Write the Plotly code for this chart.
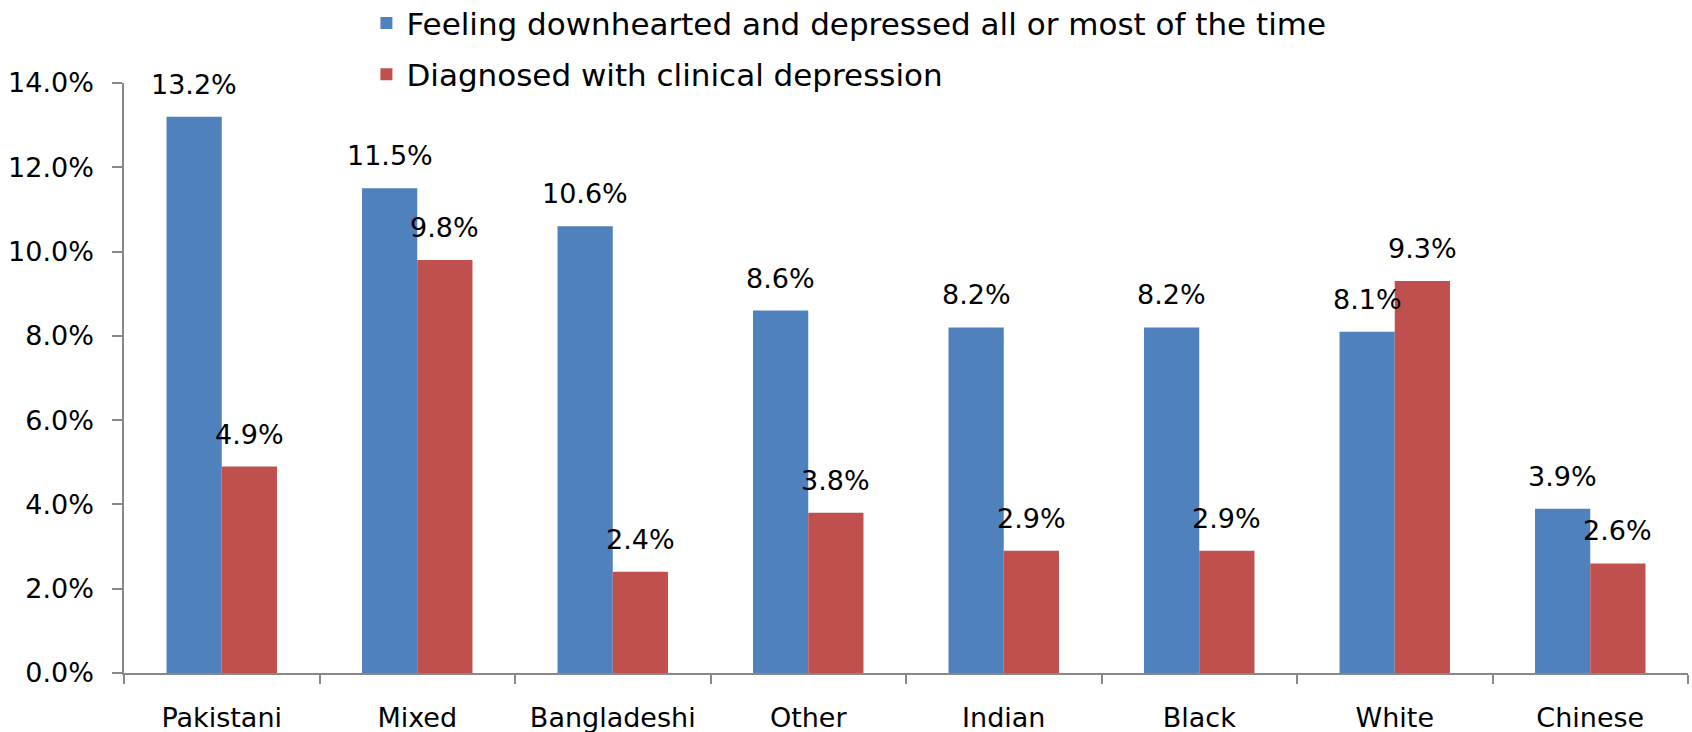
import plotly.graph_objects as go

categories = ["Pakistani", "Mixed", "Bangladeshi", "Other", "Indian", "Black", "White", "Chinese"]
feeling = [0.132, 0.115, 0.106, 0.086, 0.082, 0.082, 0.081, 0.039]
diagnosed = [0.049, 0.098, 0.024, 0.038, 0.029, 0.029, 0.093, 0.026]
series_names = ["Feeling downhearted and depressed all or most of the time",
                "Diagnosed with clinical depression"]
colors = ["#4F81BD", "#C0504D"]

FONT = "DejaVu Sans"
FS = 27
FS_LEG = 31
W, H = 1692, 732
ML, MR, MT, MB = 124, 4, 83, 59
BARGAP = 0.435

fig = go.Figure()
for i, (name, vals, col) in enumerate(zip(series_names, [feeling, diagnosed], colors)):
    fig.add_trace(go.Bar(
        x=categories, y=vals, name=name, legendgroup=f"g{i}",
        marker=dict(color=col, line=dict(width=0)),
        hoverinfo="x+y",
    ))

# data labels above bars (offset to each bar in the group)
cat_px = (W - ML - MR) / len(categories)
bar_px = cat_px * (1 - BARGAP) / 2
for i, vals in enumerate([feeling, diagnosed]):
    shift = (i - 0.5) * bar_px
    for c, v in zip(categories, vals):
        fig.add_annotation(
            x=c, y=v, text=f"{v*100:.1f}%", showarrow=False,
            xanchor="center", yanchor="bottom", xshift=shift, yshift=15,
            font=dict(family=FONT, size=FS, color="#000000"),
        )

fig.update_layout(
    width=W, height=H,
    margin=dict(l=ML, r=MR, t=MT, b=MB, autoexpand=False),
    paper_bgcolor="white", plot_bgcolor="white",
    barmode="group", bargap=BARGAP, bargroupgap=0,
    font=dict(family=FONT, size=FS, color="#000000"),
    legend=dict(x=0.155, y=1.147, xanchor="left", yanchor="top",
                font=dict(family=FONT, size=FS_LEG, color="#000000"),
                bgcolor="rgba(0,0,0,0)", tracegroupgap=8, itemwidth=30),
    showlegend=True,
)
fig.update_xaxes(
    showline=True, linecolor="#888888", linewidth=1.5,
    ticks="outside", ticklen=9, tickcolor="#888888", tickwidth=1.5,
    tickson="boundaries", showgrid=False, ticklabelstandoff=20,
    tickfont=dict(family=FONT, size=FS, color="#000000"),
)
fig.update_yaxes(
    range=[0, 0.14], dtick=0.02, tickformat=".1%",
    showline=True, linecolor="#888888", linewidth=1.5,
    ticks="outside", ticklen=10, tickcolor="#888888", tickwidth=1.5,
    showgrid=False, zeroline=False, ticklabelstandoff=13,
    tickfont=dict(family=FONT, size=FS, color="#000000"),
)

fig.write_html("out.html")
